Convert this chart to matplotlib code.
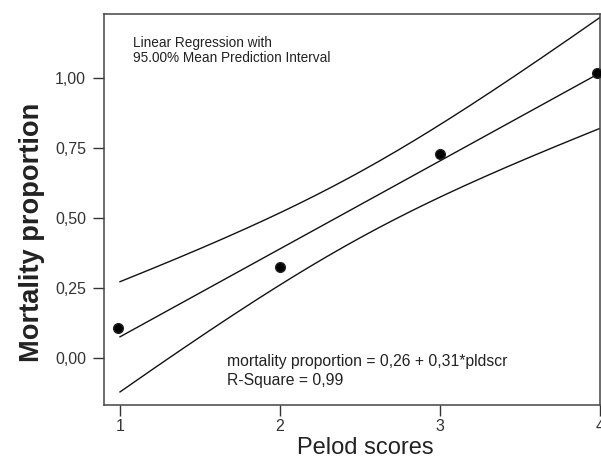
import numpy as np
import matplotlib
matplotlib.use("Agg")
import matplotlib.pyplot as plt

# data
pelod = [0.99, 2.0, 3.0, 3.98]
mortality = [0.107, 0.325, 0.728, 1.019]
yticks = [0.0, 0.25, 0.5, 0.75, 1.0]
ytick_labels = ["0,00", "0,25", "0,50", "0,75", "1,00"]
xticks = [1, 2, 3, 4]
t_crit = 4.303  # t(0.975, df=2)

plt.rcParams['font.family'] = ['Liberation Sans', 'DejaVu Sans']

W, H = 601, 459
fig = plt.figure(figsize=(W / 100, H / 100), dpi=100)
ax = fig.add_axes([104 / W, 1 - 405 / H, 496 / W, 391 / H])

# least squares fit and mean prediction interval
x = np.array(pelod)
y = np.array(mortality)
n = len(x)
slope, intercept = np.polyfit(x, y, 1)
resid = y - (intercept + slope * x)
s = np.sqrt(np.sum(resid ** 2) / (n - 2))
xx = np.linspace(1, 4, 200)
fit = intercept + slope * xx
se = s * np.sqrt(1 / n + (xx - x.mean()) ** 2 / np.sum((x - x.mean()) ** 2))

ax.plot(xx, fit, color='#111111', lw=1.0)
ax.plot(xx, fit + t_crit * se, color='#111111', lw=1.0)
ax.plot(xx, fit - t_crit * se, color='#111111', lw=1.0)
ax.plot(x, y, 'o', color='black', markersize=7, markeredgecolor='#222222', clip_on=False, zorder=5)

ax.set_xlim(0.9, 4.0)
ax.set_ylim(-0.169, 1.23)
ax.set_xticks(xticks)
ax.set_xticklabels([str(t) for t in xticks])
ax.set_yticks(yticks)
ax.set_yticklabels(ytick_labels)
ax.tick_params(direction='out', length=8, width=1, color='#333333',
               labelsize=11.5, labelcolor='#333333')
ax.tick_params(axis='y', pad=5)
ax.tick_params(axis='x', pad=2)
for sp in ax.spines.values():
    sp.set_color('#444444')
    sp.set_linewidth(1.1)

fig.text(365 / W, 1 - 448 / H, "Pelod scores", ha='center', va='center', fontsize=17, color='#222222')
fig.text(32 / W, 1 - 232 / H, "Mortality proportion", ha='center', va='center', rotation=90,
         fontsize=19.6, fontweight='bold', color='#222222')

fig.text(133 / W, 1 - 43 / H, "Linear Regression with", ha='left', va='center', fontsize=9.8, color='#222222')
fig.text(133 / W, 1 - 58 / H, "95.00% Mean Prediction Interval", ha='left', va='center', fontsize=9.8, color='#222222')

fig.text(227 / W, 1 - 361.7 / H, "mortality proportion = 0,26 + 0,31*pldscr", ha='left', va='center',
         fontsize=11.3, color='#222222')
fig.text(227 / W, 1 - 380.7 / H, "R-Square = 0,99", ha='left', va='center', fontsize=11.3, color='#222222')

fig.savefig("out.png", dpi=100)
